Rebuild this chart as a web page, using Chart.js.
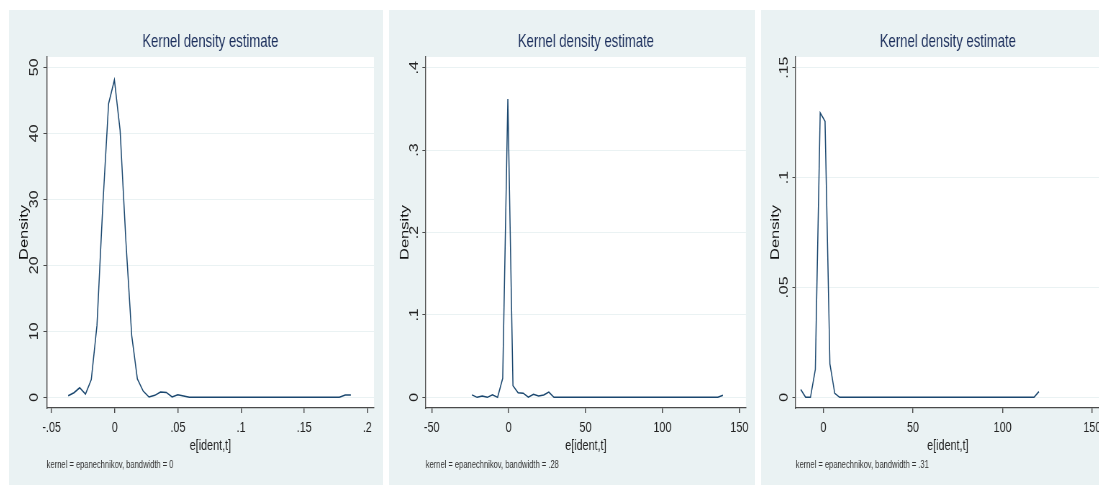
<!DOCTYPE html>
<html>
<head>
<meta charset="utf-8">
<script src="https://cdn.jsdelivr.net/npm/chart.js@4"></script>
<style>
html,body{margin:0;padding:0;background:#fff;width:1099px;height:487px;overflow:hidden;position:relative}
.panel{position:absolute;top:10px;height:475px;background:#EAF2F3;overflow:hidden}
.panel canvas{display:block;transform:scaleX(0.72);transform-origin:0 0}
</style>
</head>
<body>
<div class="panel" style="left:9px;width:374px"><canvas id="c1" width="519" height="475"></canvas></div>
<div class="panel" style="left:389px;width:366px"><canvas id="c2" width="508" height="475"></canvas></div>
<div class="panel" style="left:761px;width:348px"><canvas id="c3" width="483" height="475"></canvas></div>
<script>
// ---------- data ----------
const titleText = 'Kernel density estimate';
const xAxisTitle = 'e[ident,t]';
const yAxisTitle = 'Density';

// Panel 1
const p1X = [-0.0369,-0.0323,-0.0278,-0.0232,-0.0186,-0.0141,-0.0095,-0.0049,-0.0003,0.0042,
  0.0088,0.0134,0.0179,0.0225,0.0271,0.0317,0.0362,0.0408,0.0454,0.0499,
  0.0545,0.0591,0.0636,0.0682,0.0728,0.0774,0.0819,0.0865,0.0911,0.0956,
  0.1002,0.1048,0.1093,0.1139,0.1185,0.1231,0.1276,0.1322,0.1368,0.1413,
  0.1459,0.1505,0.1550,0.1596,0.1642,0.1688,0.1733,0.1779,0.1825,0.1870];
const p1Y = [0.24,0.7,1.45,0.5,2.7,10.9,29.0,44.5,48.1,40.5,
  23.7,9.4,2.8,0.95,0.05,0.3,0.8,0.75,0.05,0.4,
  0.2,0.02,0,0,0,0,0,0,0,0,
  0,0,0,0,0,0,0,0,0,0,
  0,0,0,0,0,0,0,0,0.35,0.35];
const p1XTicks = [-0.05,0,0.05,0.1,0.15,0.2];
const p1XLabels = ['-.05','0','.05','.1','.15','.2'];
const p1YTicks = [0,10,20,30,40,50];
const p1YLabels = ['0','10','20','30','40','50'];
const p1Note = 'kernel = epanechnikov, bandwidth = 0';

// Panel 2
const p2X = [-23.80,-20.47,-17.14,-13.81,-10.48,-7.15,-3.82,-0.49,2.84,6.17,
  9.50,12.83,16.16,19.49,22.82,26.15,29.48,32.81,36.14,39.47,
  42.80,46.13,49.46,52.79,56.12,59.45,62.78,66.11,69.44,72.77,
  76.10,79.43,82.76,86.09,89.42,92.75,96.08,99.41,102.74,106.07,
  109.40,112.73,116.06,119.39,122.72,126.05,129.38,132.71,136.04,139.37];
const p2Y = [0.003,0,0.0016,0,0.003,0,0.023,0.362,0.014,0.0055,
  0.005,0.0003,0.0036,0.0016,0.0028,0.0064,0,0,0,0,
  0,0,0,0,0,0,0,0,0,0,
  0,0,0,0,0,0,0,0,0,0,
  0,0,0,0,0,0,0,0,0,0.0025];
const p2XTicks = [-50,0,50,100,150];
const p2XLabels = ['-50','0','50','100','150'];
const p2YTicks = [0,0.1,0.2,0.3,0.4];
const p2YLabels = ['0','.1','.2','.3','.4'];
const p2Note = 'kernel = epanechnikov, bandwidth = .28';

// Panel 3
const p3X = [-12.60,-9.89,-7.18,-4.47,-1.76,0.95,3.66,6.37,9.08,11.79,
  14.50,17.21,19.92,22.63,25.34,28.05,30.76,33.47,36.18,38.89,
  41.60,44.31,47.02,49.73,52.44,55.15,57.86,60.57,63.28,65.99,
  68.70,71.41,74.12,76.83,79.54,82.25,84.96,87.67,90.38,93.09,
  95.80,98.51,101.22,103.93,106.64,109.35,112.06,114.77,117.48,120.19];
const p3Y = [0.0036,0,0,0.0127,0.1295,0.1256,0.0152,0.0018,0,0,
  0,0,0,0,0,0,0,0,0,0,
  0,0,0,0,0,0,0,0,0,0,
  0,0,0,0,0,0,0,0,0,0,
  0,0,0,0,0,0,0,0,0,0.0026];
const p3XTicks = [0,50,100,150];
const p3XLabels = ['0','50','100','150'];
const p3YTicks = [0,0.05,0.1,0.15];
const p3YLabels = ['0','.05','.1','.15'];
const p3Note = 'kernel = epanechnikov, bandwidth = .31';

// ---------- styling ----------
const SANS = '"Liberation Sans", Arial, Helvetica, sans-serif';
const LINE = '#1A476F';
const BG = '#EAF2F3';
const AX = '#4a4a4a';
const TXT = '#222';
const TITLE_C = '#1c2f5c';

const plotBg = {
  id: 'plotBg',
  beforeDraw(chart) {
    const {ctx, chartArea: a} = chart;
    ctx.save();
    ctx.fillStyle = '#ffffff';
    ctx.fillRect(a.left, a.top, a.right - a.left, a.bottom - a.top);
    ctx.restore();
  }
};

function makeChart(id, xs, ys, o) {
  const pts = xs.map((x, i) => ({x: x, y: ys[i]}));
  return new Chart(document.getElementById(id), {
    type: 'scatter',
    data: {datasets: [{data: pts, showLine: true, borderColor: LINE, borderWidth: 1.5,
      pointRadius: 0, pointHoverRadius: 0, tension: 0, fill: false}]},
    options: {
      responsive: false, animation: false, events: [],
      layout: {padding: {left: 0, right: o.rightPad, top: 0, bottom: 0}},
      plugins: {
        legend: {display: false}, tooltip: {enabled: false},
        title: {display: true, text: titleText, fullSize: false, color: TITLE_C,
          font: {family: SANS, size: 18.2, weight: 'normal', lineHeight: 1.2},
          padding: {top: 20.8, bottom: 4.4}},
        subtitle: {display: true, text: o.note, position: 'bottom', align: 'start', fullSize: false,
          color: '#333', font: {family: SANS, size: 10.5, weight: 'normal', lineHeight: 1.2},
          padding: {top: 4.2, bottom: 13.2}}
      },
      scales: {
        x: {
          type: 'linear', min: o.xMin, max: o.xMax,
          afterBuildTicks: s => { s.ticks = o.xTicks.map(v => ({value: v})); },
          afterFit: s => { s.height = 47; },
          ticks: {autoSkip: false, maxRotation: 0, minRotation: 0, padding: 5.7, color: TXT,
            font: {family: SANS, size: 15, lineHeight: 1.2},
            callback: (v, i) => o.xLabels[i]},
          grid: {display: true, drawOnChartArea: false, drawTicks: true, tickLength: 5, tickColor: AX, color: AX, lineWidth: 1.4},
          border: {display: true, color: AX, width: 1.3},
          title: {display: true, text: xAxisTitle, color: TXT,
            font: {family: SANS, size: 15, lineHeight: 1.2}, padding: {top: 0, bottom: 0}}
        },
        y: {
          type: 'linear', min: o.yMin, max: o.yMax,
          afterBuildTicks: s => { s.ticks = o.yTicks.map(v => ({value: v})); },
          afterFit: s => { s.width = o.yWidth; },
          ticks: {autoSkip: false, minRotation: 90, maxRotation: 90, crossAlign: 'center',
            padding: o.yTickPad, color: TXT, font: {family: SANS, size: 16, lineHeight: 1.2},
            callback: (v, i) => o.yLabels[i]},
          grid: {display: true, drawOnChartArea: true, drawTicks: true, tickLength: 4.6, tickColor: AX, color: BG, lineWidth: 1},
          border: {display: true, color: AX, width: 1.4},
          title: {display: true, text: yAxisTitle, color: '#111',
            font: {family: SANS, size: 16.5, lineHeight: 1.2}, padding: {top: o.yTitlePad, bottom: 0}}
        }
      }
    },
    plugins: [plotBg]
  });
}

makeChart('c1', p1X, p1Y, {xMin: -0.0539, xMax: 0.2053, xTicks: p1XTicks, xLabels: p1XLabels,
  yMin: -1.616, yMax: 51.565, yTicks: p1YTicks, yLabels: p1YLabels, note: p1Note,
  yWidth: 52.36, rightPad: 12.06, yTickPad: 3.7, yTitlePad: 11.9});
makeChart('c2', p2X, p2Y, {xMin: -53.88, xMax: 154.33, xTicks: p2XTicks, xLabels: p2XLabels,
  yMin: -0.01294, yMax: 0.41294, yTicks: p2YTicks, yLabels: p2YLabels, note: p2Note,
  yWidth: 50.97, rightPad: 12.17, yTickPad: 3.65, yTitlePad: 12.7});
makeChart('c3', p3X, p3Y, {xMin: -15.41, xMax: 154.28, xTicks: p3XTicks, xLabels: p3XLabels,
  yMin: -0.004853, yMax: 0.15485, yTicks: p3YTicks, yLabels: p3YLabels, note: p3Note,
  yWidth: 48.19, rightPad: 12.17, yTickPad: 0.1, yTitlePad: 10.2});
</script>
</body>
</html>
